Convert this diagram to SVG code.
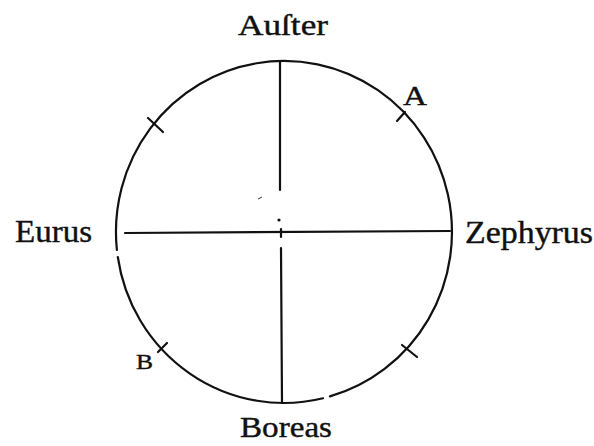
<svg xmlns="http://www.w3.org/2000/svg" width="594" height="446" viewBox="0 0 594 446">
  <style>
    .ln { fill: none; stroke: #111; stroke-width: 2.2; stroke-linecap: round; }
    text { font-family: 'Liberation Serif', 'Times New Roman', 'DejaVu Serif', serif; fill: #111; stroke: #111; stroke-width: 0.4; }
  </style>
  <rect width="594" height="446" fill="#fff"/>
  <g id="circle">
    <path class="ln" d="M 323 398.3 A 168 171 0 0 1 117.8 257"/>
    <path class="ln" d="M 116.9 250 A 168 171 0 1 1 330 396.4"/>
  </g>
  <g id="connectors">
    <line class="ln" x1="280" y1="61" x2="280" y2="190"/>
    <line class="ln" x1="281" y1="248" x2="282" y2="403"/>
    <line class="ln" x1="281" y1="229" x2="281" y2="237" stroke-width="1.5"/>
    <line class="ln" x1="125" y1="233" x2="450" y2="231"/>
    <line class="ln" x1="148" y1="118" x2="163" y2="132"/>
    <line class="ln" x1="397" y1="121" x2="405" y2="112"/>
    <line class="ln" x1="158" y1="352" x2="167" y2="343"/>
    <line class="ln" x1="402" y1="345" x2="417" y2="357"/>
    <circle cx="279" cy="220" r="1.6" fill="#111"/>
    <path d="M 258 199 L 262 197" stroke="#333" stroke-width="1" fill="none"/>
  </g>
  <g id="label-auster"><text x="238" y="35" font-size="29" textLength="90" lengthAdjust="spacingAndGlyphs">Auſter</text></g>
  <g id="label-eurus"><text x="15" y="242" font-size="31" textLength="77" lengthAdjust="spacingAndGlyphs">Eurus</text></g>
  <g id="label-zephyrus"><text x="465" y="243" font-size="31" textLength="128" lengthAdjust="spacingAndGlyphs">Zephyrus</text></g>
  <g id="label-boreas"><text x="240" y="437" font-size="29" textLength="92" lengthAdjust="spacingAndGlyphs">Boreas</text></g>
  <g id="label-a"><text x="403" y="105" font-size="28" textLength="24" lengthAdjust="spacingAndGlyphs">A</text></g>
  <g id="label-b"><text x="136" y="369" font-size="21" textLength="17" lengthAdjust="spacingAndGlyphs">B</text></g>
</svg>
